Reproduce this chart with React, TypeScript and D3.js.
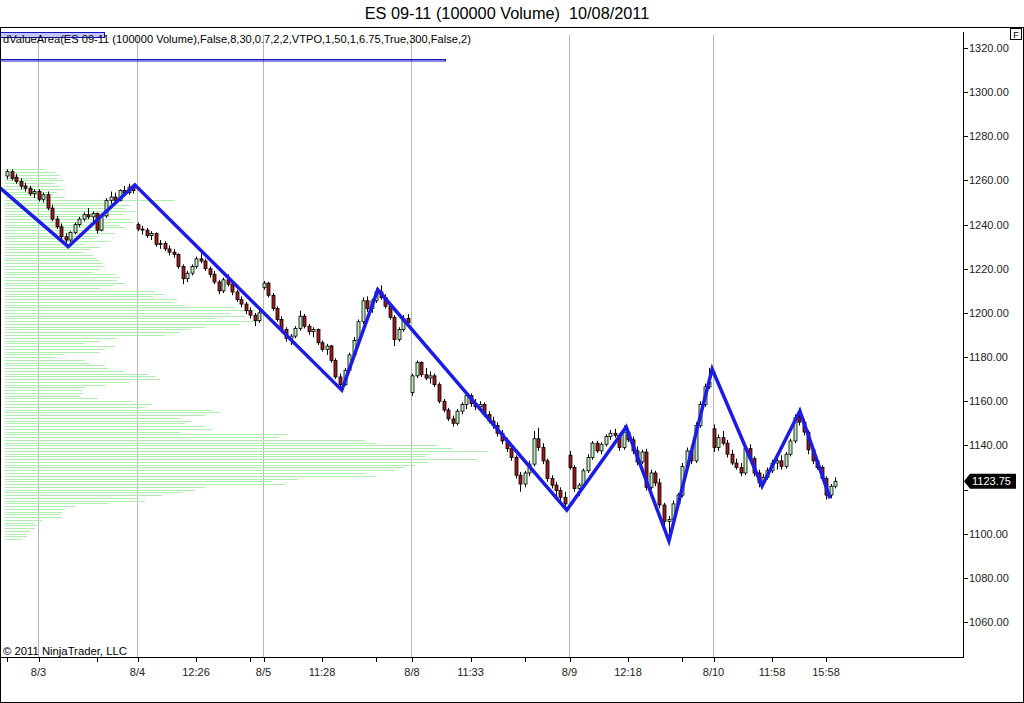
import React from 'react';
import * as d3 from 'd3';

const TITLE = 'ES 09-11 (100000 Volume)\u00A0\u00A010/08/2011';
const INDICATOR =
  'dValueArea(ES 09-11 (100000 Volume),False,8,30,0.7,2,2,VTPO,1,50,1,6.75,True,300,False,2)';
const COPYRIGHT = '\u00A9 2011 NinjaTrader, LLC';

type Bar = [number, number, number, number]; // open, high, low, close

const bars0802: Bar[] = [
  [1262, 1265, 1260.5, 1264], [1264, 1265, 1260, 1261], [1261.5, 1263, 1258.5, 1259.5],
  [1259.5, 1261, 1256, 1257.5], [1257.5, 1259, 1255, 1256.5], [1256.5, 1257.5, 1253, 1254],
  [1254, 1256, 1252, 1255],
];
const bars0803: Bar[] = [
  [1255, 1256, 1250.5, 1251.5], [1251.5, 1254.5, 1250, 1253.5], [1253.5, 1255, 1246.5, 1247.5],
  [1247.5, 1249, 1241.5, 1242.5], [1242.5, 1244, 1238, 1239], [1239, 1240.5, 1233.5, 1234.5],
  [1234.5, 1236, 1231.5, 1233], [1233, 1237, 1232, 1236.5], [1236.5, 1241, 1235.5, 1240],
  [1240, 1243.5, 1239, 1242.5], [1242.5, 1245.5, 1241.5, 1244.5], [1244.5, 1247.5, 1242.5, 1243.5],
  [1243.5, 1246, 1241, 1245], [1245, 1245.5, 1236, 1237.5], [1237.5, 1245, 1237, 1244],
  [1244, 1252, 1243, 1251], [1251, 1255, 1249.5, 1252.5], [1252.5, 1254.5, 1250, 1251],
  [1251, 1256, 1250.5, 1255.5], [1255.5, 1257.5, 1253.5, 1254.5], [1254.5, 1258.5, 1253.5, 1257],
  [1257, 1258, 1254, 1255.5],
];
const bars0804: Bar[] = [
  [1240, 1241, 1237, 1238], [1238, 1239.5, 1235.5, 1237.5], [1237.5, 1238.5, 1234, 1235],
  [1235, 1237, 1233, 1236], [1236, 1236.5, 1230, 1231], [1231, 1233, 1229, 1231.5],
  [1231.5, 1232.5, 1228, 1229], [1229, 1230.5, 1226, 1227.5], [1227.5, 1229, 1225, 1226.5],
  [1226.5, 1227, 1220, 1221], [1221, 1222, 1213, 1215.5], [1215.5, 1219, 1214, 1218],
  [1218, 1222, 1217, 1221], [1221, 1225.5, 1220, 1224.5], [1224.5, 1227, 1222.5, 1223.5],
  [1223.5, 1224.5, 1219, 1220], [1220, 1221, 1216, 1217.5], [1217.5, 1219, 1213, 1214],
  [1214, 1215, 1208.5, 1210], [1210, 1216, 1209, 1215], [1215, 1217.5, 1212, 1213],
  [1213, 1214, 1208, 1209.5], [1209.5, 1210.5, 1205, 1206], [1206, 1207.5, 1202.5, 1204],
  [1204, 1205, 1199.5, 1201], [1201, 1202.5, 1197.5, 1199], [1199, 1200, 1194, 1196.5],
  [1196.5, 1201, 1195.5, 1200],
];
const bars0805: Bar[] = [
  [1211.5, 1214.5, 1210.5, 1213.5], [1213.5, 1214, 1207, 1208], [1208, 1209, 1201, 1202],
  [1202, 1203, 1196, 1197], [1197, 1198.5, 1191, 1192.5], [1192.5, 1193.5, 1187, 1188.5],
  [1188.5, 1190.5, 1185.5, 1189.5], [1189.5, 1194, 1188.5, 1193], [1193, 1201, 1192, 1198.5],
  [1198.5, 1199.5, 1193, 1194], [1194, 1195, 1190, 1191.5], [1191.5, 1193.5, 1189, 1192.5],
  [1192.5, 1193, 1185.5, 1186.5], [1186.5, 1187.5, 1182.5, 1183.5], [1183.5, 1186, 1181, 1185],
  [1185, 1185.5, 1177.5, 1178.5], [1178.5, 1179.5, 1170, 1171], [1171, 1172.5, 1165.5, 1167.5],
  [1167.5, 1175, 1167, 1174], [1174, 1182, 1173, 1181], [1181, 1189, 1180, 1187.5],
  [1187.5, 1197, 1186.5, 1196], [1196, 1207, 1195, 1205.5], [1205.5, 1207.5, 1200.5, 1202],
  [1202, 1206.5, 1200, 1205.5], [1205.5, 1211, 1204.5, 1209.5], [1209.5, 1212.5, 1206, 1207],
  [1207, 1208.5, 1202, 1203], [1203, 1204.5, 1197, 1198], [1198, 1199, 1185, 1188],
  [1188, 1193.5, 1187, 1192.5], [1192.5, 1199, 1191.5, 1197.5], [1197.5, 1199.5, 1194.5, 1195.5],
];
const bars0808: Bar[] = [
  [1164, 1172.5, 1162.5, 1171.5], [1171.5, 1178.5, 1170.5, 1177.5], [1177.5, 1178, 1171, 1172],
  [1172, 1175, 1169.5, 1170.5], [1170.5, 1173.5, 1168, 1171.5], [1171.5, 1172.5, 1166.5, 1167.5],
  [1167.5, 1168.5, 1159, 1160], [1160, 1161, 1155, 1156], [1156, 1157, 1151, 1152],
  [1152, 1153.5, 1148.5, 1150], [1150, 1156.5, 1149, 1155.5], [1155.5, 1159.5, 1154, 1158.5],
  [1158.5, 1164, 1156.5, 1162.5], [1162.5, 1163.5, 1157.5, 1159], [1159, 1161, 1156, 1157.5],
  [1157.5, 1160, 1155.5, 1158.5], [1158.5, 1159.5, 1153, 1154], [1154, 1155.5, 1150, 1151],
  [1151, 1153, 1147.5, 1149], [1149, 1150.5, 1144, 1145.5], [1145.5, 1147, 1140.5, 1142],
  [1142, 1143.5, 1137, 1138.5], [1138.5, 1139.5, 1133, 1134.5], [1134.5, 1135.5, 1125, 1126.5],
  [1126.5, 1128, 1119, 1122.5], [1122.5, 1128.5, 1121, 1127.5], [1127.5, 1133, 1126, 1131.5],
  [1131.5, 1146.5, 1130.5, 1143], [1143, 1148, 1137.5, 1139], [1139, 1141, 1131.5, 1133],
  [1133, 1134, 1123.5, 1125], [1125, 1126.5, 1120.5, 1122], [1122, 1123.5, 1117, 1119.5],
  [1119.5, 1121, 1114.5, 1116.5], [1116.5, 1119, 1110.5, 1113.5],
];
const bars0809: Bar[] = [
  [1135.5, 1137.5, 1129, 1130], [1130, 1131, 1119, 1120.5], [1120.5, 1123, 1117, 1122],
  [1122, 1129.5, 1121, 1128.5], [1128.5, 1136, 1127.5, 1134.5], [1134.5, 1142, 1133.5, 1141],
  [1141, 1142, 1136.5, 1137.5], [1137.5, 1141.5, 1136, 1140.5], [1140.5, 1145, 1139.5, 1144],
  [1144, 1147, 1142.5, 1145.5], [1145.5, 1147.5, 1143.5, 1144.5], [1144.5, 1145.5, 1137.5, 1139],
  [1139, 1149, 1138, 1146], [1146, 1147.5, 1141.5, 1142.5], [1142.5, 1144, 1136, 1137.5],
  [1137.5, 1139.5, 1131, 1132.5], [1132.5, 1138, 1131.5, 1137], [1137, 1138.5, 1119.5, 1121],
  [1121, 1129, 1120, 1127.5], [1127.5, 1128.5, 1121.5, 1123], [1123, 1125, 1111.5, 1113],
  [1113, 1114, 1102, 1105.5], [1105.5, 1108, 1098.5, 1106.5], [1106.5, 1115, 1105.5, 1113.5],
  [1113.5, 1118.5, 1112.5, 1117.5], [1117.5, 1132, 1116.5, 1130.5], [1130.5, 1139, 1129, 1137.5],
  [1137.5, 1138.5, 1131.5, 1133], [1133, 1150.5, 1132, 1149], [1149, 1160, 1148, 1158.5],
  [1158.5, 1168, 1157.5, 1166.5], [1166.5, 1175, 1165.5, 1168.5],
];
const bars0810: Bar[] = [
  [1147.5, 1149.5, 1137, 1139], [1139, 1145, 1137.5, 1143.5], [1143.5, 1146.5, 1140, 1141],
  [1141, 1142.5, 1134.5, 1136], [1136, 1138, 1131, 1132], [1132, 1134, 1129, 1130],
  [1130, 1132, 1126, 1127.5], [1127.5, 1140, 1126.5, 1138.5], [1138.5, 1140.5, 1133, 1134],
  [1134, 1135, 1126, 1127.5], [1127.5, 1129, 1121, 1123], [1123, 1127, 1122, 1125.5],
  [1125.5, 1130, 1124.5, 1128.5], [1128.5, 1133.5, 1127.5, 1132], [1132, 1134, 1129, 1133],
  [1133, 1135.5, 1129, 1130.5], [1130.5, 1137, 1129.5, 1136], [1136, 1143, 1135, 1142],
  [1142, 1154, 1141, 1152.5], [1152.5, 1157, 1149, 1150.5], [1150.5, 1152, 1144.5, 1146],
  [1146, 1147, 1136, 1138], [1138, 1139.5, 1131.5, 1133], [1133, 1134.5, 1129, 1130],
  [1130, 1131, 1124, 1125], [1125, 1126, 1115.5, 1117.5], [1117.5, 1122.5, 1116, 1121.5],
  [1121.5, 1125.5, 1120.5, 1123.75],
];
const bars: Bar[] = [
  ...bars0802, ...bars0803, ...bars0804, ...bars0805, ...bars0808, ...bars0809, ...bars0810,
];

const yTicks = [1060, 1080, 1100, 1120, 1140, 1160, 1180, 1200, 1220, 1240, 1260, 1280, 1300, 1320];
const xLabelIdx = [7, 29, 42, 57, 70, 90, 103, 125, 138, 157, 170, 182];
const xLabelText = ['8/3', '8/4', '12:26', '8/5', '11:28', '8/8', '11:33', '8/9', '12:18', '8/10', '11:58', '15:58'];
const sessionStartIdx = [7, 29, 57, 90, 125, 157];
const minorTickIdx = [0, 20, 54, 82, 115, 150];

const zigIdx = [-1.5, 13.6, 28.4, 74.4, 82.4, 124.4, 137.6, 147.1, 156.7, 167.8, 176.2, 182.9];
const zigPrice = [1256.5, 1230, 1258, 1165, 1210.5, 1110.7, 1148.3, 1096.7, 1174.6, 1121.6, 1155.6, 1116];

const profileTop = 1265;
const profileStep = 1.25;
const profileVolume = [
  40, 50, 55, 52, 58, 50, 55, 60, 52, 48,
  60, 170, 110, 125, 120, 130, 118, 105, 125, 128,
  115, 120, 100, 110, 95, 90, 105, 80, 95, 85,
  78, 88, 92, 95, 98, 100, 95, 88, 110, 115,
  112, 120, 108, 95, 150, 160, 148, 172, 168, 180,
  230, 250, 225, 240, 210, 255, 235, 200, 185, 175,
  160, 112, 95, 80, 110, 100, 95, 60, 50, 80,
  85, 100, 103, 120, 143, 150, 155, 125, 100, 80,
  77, 78, 75, 93, 127, 147, 140, 207, 215, 200,
  175, 187, 180, 200, 207, 175, 283, 273, 360, 370,
  433, 447, 483, 423, 420, 472, 423, 410, 400, 390,
  360, 370, 293, 267, 280, 200, 190, 177, 157, 133,
  140, 103, 70, 60, 57, 55, 57, 37, 30, 32,
  30, 25, 22, 22, 17,
];
const lastPrice = 1123.75;

const W = 1024;
const H = 703;
const PL = 0;
const PR = 963;
const PT = 27;
const PB = 657;
const FONT = '"Liberation Sans", Arial, sans-serif';

export default function App() {
  const x = d3.scaleLinear().domain([0, 184]).range([7, 835]);
  const y = d3.scaleLinear().domain([1060, 1320]).range([622, 48]);
  const pv = d3.scaleLinear().domain([0, 500]).range([5, 505]);
  const profile = profileVolume.map((v, i) => ({ price: profileTop - i * profileStep, v }));
  const zig = zigIdx.map((i, k) => [x(i), y(zigPrice[k])] as [number, number]);
  const zigPath = d3.line()(zig) || '';
  const bodyW = 3;
  const ly = y(lastPrice);
  // labels hidden behind the last-price marker
  const visibleTicks = yTicks.filter((t) => Math.abs(y(t) - ly) > 10);

  return (
    <svg width={W} height={H} style={{ position: 'absolute', left: 0, top: 0, background: '#fff' }}
      fontFamily={FONT}>
      <defs>
        <clipPath id="plot">
          <rect x={PL} y={PT} width={PR - PL} height={PB - PT} />
        </clipPath>
      </defs>
      <rect x={0} y={0} width={W} height={H} fill="#fff" />
      <text x={507} y={19} fontSize={16.3} textAnchor="middle" fill="#000">{TITLE}</text>

      {/* day separators */}
      {sessionStartIdx.map((i) => (
        <line key={'g' + i} x1={Math.round(x(i)) - 0.5} x2={Math.round(x(i)) - 0.5} y1={35} y2={PB}
          stroke="#b8b8b8" strokeWidth={1} />
      ))}

      <g clipPath="url(#plot)">
        {/* volume profile */}
        {profile.map((d, i) => (
          <line key={'p' + i} x1={pv(0)} x2={pv(d.v)} y1={Math.round(y(d.price)) + 0.5}
            y2={Math.round(y(d.price)) + 0.5} stroke="#b0eeb0" strokeWidth={1} />
        ))}

        {/* candles */}
        {bars.map((b, i) => {
          const [o, h, l, c] = b;
          const cx = Math.round(x(i)) + 0.5;
          const up = c >= o;
          const top = y(Math.max(o, c));
          const bot = y(Math.min(o, c));
          return (
            <g key={'c' + i}>
              <line x1={cx} x2={cx} y1={y(h)} y2={y(l)} stroke="#000" strokeWidth={1} />
              <rect x={cx - bodyW / 2} y={top} width={bodyW} height={Math.max(1, bot - top)}
                fill={up ? '#bdebbd' : '#9e1a1a'} stroke="#000" strokeWidth={0.8} />
            </g>
          );
        })}

        {/* zigzag */}
        <path d={zigPath} fill="none" stroke="#1c1ce6" strokeWidth={3.5} strokeLinejoin="miter" />
      </g>

      {/* indicator label */}
      <rect x={0.5} y={32.5} width={104} height={5} fill="#c4c4ff" stroke="#1010c0" strokeWidth={1} />
      <text x={3} y={43} fontSize={11.1} fill="#000">{INDICATOR}</text>
      <rect x={0.5} y={59.5} width={445} height={1.5} fill="none" stroke="#1010c0" strokeWidth={1} />

      <text x={3} y={655} fontSize={11.3} fill="#000">{COPYRIGHT}</text>

      {/* axes */}
      <line x1={PR + 0.5} x2={PR + 0.5} y1={32} y2={PB} stroke="#000" strokeWidth={1} />
      <line x1={0} x2={PR + 1} y1={PB + 0.5} y2={PB + 0.5} stroke="#000" strokeWidth={1} />
      {yTicks.map((t) => (
        <line key={'yt' + t} x1={PR} x2={PR + 5} y1={Math.round(y(t)) + 0.5} y2={Math.round(y(t)) + 0.5}
          stroke="#000" />
      ))}
      {visibleTicks.map((t) => (
        <text key={'y' + t} x={PR + 6} y={y(t) + 4} fontSize={11} fill="#222">{t.toFixed(2)}</text>
      ))}
      {xLabelIdx.map((i, k) => (
        <g key={'x' + i}>
          <line x1={Math.round(x(i)) + 0.5} x2={Math.round(x(i)) + 0.5} y1={PB} y2={PB + 5} stroke="#000" />
          <text x={x(i)} y={675.5} fontSize={11} textAnchor="middle" fill="#222">{xLabelText[k]}</text>
        </g>
      ))}
      {minorTickIdx.map((i) => (
        <line key={'m' + i} x1={Math.round(x(i)) + 0.5} x2={Math.round(x(i)) + 0.5} y1={PB} y2={PB + 5}
          stroke="#000" />
      ))}

      {/* last price marker */}
      <path d={`M${PR + 1},${ly} L${PR + 7},${ly - 7.5} L${1016},${ly - 7.5} L${1016},${ly + 7.5} L${PR + 7},${ly + 7.5} Z`}
        fill="#000" />
      <text x={PR + 9} y={ly + 4} fontSize={11} fill="#fff">{lastPrice.toFixed(2)}</text>

      {/* F box */}
      <rect x={1010.5} y={28.5} width={11} height={11} fill="#fff" stroke="#000" strokeWidth={1} />
      <text x={1016} y={37.5} fontSize={9} textAnchor="middle" fill="#000">F</text>

      {/* frame */}
      <line x1={0} x2={W} y1={PT + 0.5} y2={PT + 0.5} stroke="#000" strokeWidth={1} />
      <rect x={0.5} y={PT + 0.5} width={W - 1} height={H - PT - 1} fill="none" stroke="#000" strokeWidth={1} />
    </svg>
  );
}
